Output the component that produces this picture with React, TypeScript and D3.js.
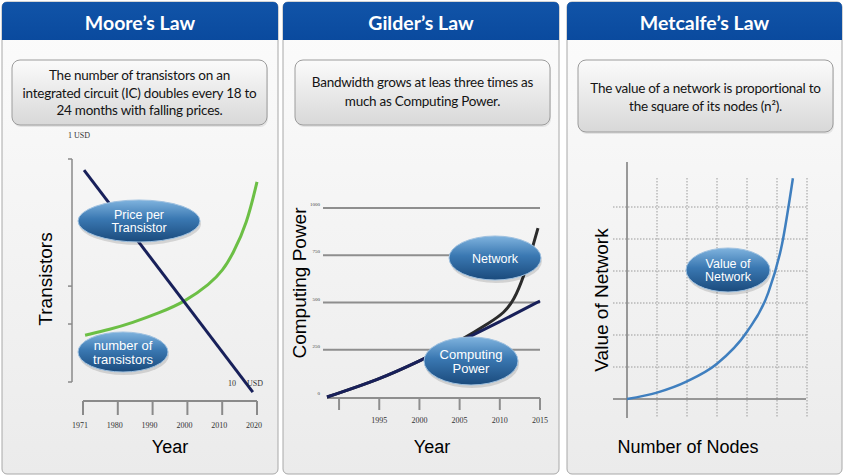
import React from 'react';
import * as d3 from 'd3';

// ---------- DATA ----------
const panelTitles = ['Moore’s Law', 'Gilder’s Law', 'Metcalfe’s Law'];
const mooreDescription = ['The number of transistors on an', 'integrated circuit (IC) doubles every 18 to', '24 months with falling prices.'];
const gilderDescription = ['Bandwidth grows at leas three times as', 'much as Computing Power.'];
const metcalfeDescription = ['The value of a network is proportional to', 'the square of its nodes (n²).'];

// Moore's law
const mooreYearLabels = ['1971', '1980', '1990', '2000', '2010', '2020'];
const mooreYTicks = [0, 26, 43, 100];
const moorePrice: [number, number][] = [[1970.3, 95], [2018.8, -4.5]];
const mooreTransistors: [number, number][] = [
  [1970.6, 21], [1977.8, 23.6], [1984, 26.5], [1992, 31], [1999.3, 36],
  [2006.5, 44], [2010.2, 50], [2013.1, 57.5], [2017.1, 71], [2020.0, 89.7],
];
const mooreTopLabel = '1 USD';
const mooreBottomLabel = ['10', 'USD'];

// Gilder's law
const gilderYears = [1990, 1995, 2000, 2005, 2010, 2015];
const gilderYearLabels = ['', '1995', '2000', '2005', '2010', '2015'];
const gilderYTicks = [0, 250, 500, 750, 1000];
const computingPower: [number, number][] = [
  [1988.5, 0], [1995, 92], [2000, 190], [2005, 292], [2010, 398], [2015, 508],
];
const networkGrowth: [number, number][] = [
  [1988.5, 0], [1995, 92], [2000, 190], [2005, 295], [2009, 400], [2010.5, 445],
  [2011.75, 510], [2013, 640], [2014, 780], [2014.75, 894],
];

// Metcalfe's law
const metcalfeGridX = [1, 2, 3, 4, 5, 6];
const metcalfeGridY = [1, 2, 3, 4, 5, 6];
const networkValue: [number, number][] = [
  [0, 0], [1, 0.2], [2, 0.55], [3, 1.1], [4, 2.1], [4.7, 3.3], [5.17, 4.85], [5.53, 6.9],
];

// ---------- LAYOUT ----------
const W = 844;
const H = 476;
const panels = [
  { x: 2, w: 276, box: { x: 12, y: 60, w: 255, h: 65 } },
  { x: 283, w: 276, box: { x: 295, y: 60, w: 255, h: 65 } },
  { x: 567, w: 275, box: { x: 578, y: 60, w: 255, h: 72 } },
];
const panelTop = 2;
const panelBottom = 474;
const headerBottom = 40;

const TITLE_FONT = 'Lato, "Open Sans", sans-serif';
const AXIS_FONT = '"Liberation Sans", Arial, sans-serif';
const SERIF = '"Liberation Serif", "DejaVu Serif", serif';

function Bubble({ cx, cy, rx, ry, lines, fs = 12.5 }: { cx: number; cy: number; rx: number; ry: number; lines: string[]; fs?: number }) {
  const lh = fs * 1.08;
  const y0 = cy - ((lines.length - 1) * lh) / 2 + fs * 0.36;
  return (
    <g>
      <ellipse cx={cx + 1} cy={cy + 3} rx={rx} ry={ry} fill="rgba(0,0,0,0.13)" />
      <ellipse cx={cx} cy={cy} rx={rx} ry={ry} fill="url(#bubbleGrad)" stroke="#9fc1e0" strokeWidth={1} />
      {lines.map((l, i) => (
        <text key={i} x={cx} y={y0 + i * lh} textAnchor="middle" fontFamily={AXIS_FONT} fontSize={fs} fill="#ffffff">
          {l}
        </text>
      ))}
    </g>
  );
}

function Panel({ i, title, desc, descY, descLH }: { i: number; title: string; desc: string[]; descY: number; descLH: number }) {
  const p = panels[i];
  const r = 5;
  const x0 = p.x, x1 = p.x + p.w;
  const headerPath = `M${x0},${headerBottom} L${x0},${panelTop + r} Q${x0},${panelTop} ${x0 + r},${panelTop} L${x1 - r},${panelTop} Q${x1},${panelTop} ${x1},${panelTop + r} L${x1},${headerBottom} Z`;
  const cx = p.box.x + p.box.w / 2;
  return (
    <g>
      <rect x={x0} y={panelTop} width={p.w} height={panelBottom - panelTop} rx={r} fill="url(#bodyGrad)" stroke="#a8a8a8" strokeWidth={1} />
      <path d={headerPath} fill="url(#headGrad)" />
      <text x={(x0 + x1) / 2} y={30} textAnchor="middle" fontFamily={TITLE_FONT} fontWeight={700} fontSize={19.5} fill="#ffffff">
        {title}
      </text>
      <rect x={p.box.x + 1} y={p.box.y + 2} width={p.box.w} height={p.box.h} rx={8} fill="rgba(0,0,0,0.08)" />
      <rect x={p.box.x} y={p.box.y} width={p.box.w} height={p.box.h} rx={8} fill="url(#boxGrad)" stroke="#9c9c9c" strokeWidth={1} />
      {desc.map((l, k) => (
        <text key={k} x={cx} y={descY + k * descLH} textAnchor="middle" fontFamily={TITLE_FONT} fontSize={13.5} letterSpacing={-0.25} fill="#141414">
          {l}
        </text>
      ))}
    </g>
  );
}

function Moore() {
  const xYear = d3.scaleLinear().domain([1970, 2020]).range([83, 257]);
  const xCat = d3.scalePoint<string>().domain(mooreYearLabels).range([83, 257]);
  const y = d3.scaleLinear().domain([0, 100]).range([382, 159]);
  const line = d3.line<[number, number]>().x(d => xYear(d[0])).y(d => y(d[1]));
  const curve = d3.line<[number, number]>().x(d => xYear(d[0])).y(d => y(d[1])).curve(d3.curveBasis);
  const axisY = 401;
  return (
    <g>
      <line x1={72} x2={72} y1={y(100)} y2={y(0)} stroke="#8a8a8a" strokeWidth={1.5} />
      {mooreYTicks.map(t => (
        <line key={t} x1={68} x2={72} y1={y(t)} y2={y(t)} stroke="#8a8a8a" strokeWidth={1.5} />
      ))}
      <text x={68} y={138} fontFamily={SERIF} fontSize={8} fill="#333">{mooreTopLabel}</text>
      <line x1={xCat('1971')!} x2={xCat('2020')!} y1={axisY} y2={axisY} stroke="#8a8a8a" strokeWidth={2} />
      {mooreYearLabels.map(l => (
        <g key={l}>
          <line x1={xCat(l)!} x2={xCat(l)!} y1={axisY} y2={axisY + 14} stroke="#8a8a8a" strokeWidth={2} />
          <text x={xCat(l)! - 3} y={428} textAnchor="middle" fontFamily={SERIF} fontSize={8} fill="#333">{l}</text>
        </g>
      ))}
      <text x={170} y={453} textAnchor="middle" fontFamily={AXIS_FONT} fontSize={18} fill="#000">Year</text>
      <text transform="translate(52,279) rotate(-90)" textAnchor="middle" fontFamily={AXIS_FONT} fontSize={19} fill="#000">Transistors</text>
      <path d={curve(mooreTransistors)!} fill="none" stroke="#6cbf45" strokeWidth={3} />
      <path d={line(moorePrice)!} fill="none" stroke="#18205a" strokeWidth={3} />
      <text x={228} y={386} fontFamily={SERIF} fontSize={8} fill="#333">{mooreBottomLabel[0]}</text>
      <text x={247} y={386} fontFamily={SERIF} fontSize={8} fill="#333">{mooreBottomLabel[1]}</text>
      <Bubble cx={139} cy={221} rx={61} ry={21} lines={['Price per', 'Transistor']} />
      <Bubble cx={123} cy={352} rx={45} ry={20} lines={['number of', 'transistors']} fs={13} />
    </g>
  );
}

function Gilder() {
  const x = d3.scaleLinear().domain([1988.5, 2015]).range([327, 540]);
  const y = d3.scaleLinear().domain([0, 1000]).range([397, 208]);
  const curve = d3.line<[number, number]>().x(d => x(d[0])).y(d => y(d[1])).curve(d3.curveBasis);
  const axisY = 398;
  return (
    <g>
      {gilderYTicks.filter(t => t > 0).map(t => (
        <line key={t} x1={323} x2={540} y1={y(t)} y2={y(t)} stroke="#8e8e8e" strokeWidth={2} />
      ))}
      {gilderYTicks.map(t => (
        <text key={t} x={320} y={y(t) - 2} textAnchor="end" fontFamily={SERIF} fontSize={5} fill="#444">{t}</text>
      ))}
      <line x1={327} x2={540} y1={axisY} y2={axisY} stroke="#8e8e8e" strokeWidth={2} />
      {gilderYears.map((yr, k) => (
        <g key={yr}>
          <line x1={x(yr)} x2={x(yr)} y1={axisY} y2={axisY + 12} stroke="#8e8e8e" strokeWidth={2} />
          <text x={x(yr)} y={423} textAnchor="middle" fontFamily={SERIF} fontSize={8} fill="#333">{gilderYearLabels[k]}</text>
        </g>
      ))}
      <text x={432} y={453} textAnchor="middle" fontFamily={AXIS_FONT} fontSize={18} fill="#000">Year</text>
      <text transform="translate(306,283) rotate(-90)" textAnchor="middle" fontFamily={AXIS_FONT} fontSize={19} fill="#000">Computing Power</text>
      <path d={curve(networkGrowth)!} fill="none" stroke="#2b2b2b" strokeWidth={3} />
      <path d={curve(computingPower)!} fill="none" stroke="#18205a" strokeWidth={3} />
      <Bubble cx={495} cy={258} rx={46} ry={22} lines={['Network']} />
      <Bubble cx={471} cy={361} rx={47} ry={24} lines={['Computing', 'Power']} fs={13} />
    </g>
  );
}

function Metcalfe() {
  const x = d3.scaleLinear().domain([0, 6]).range([627, 807]);
  const y = d3.scaleLinear().domain([0, 7]).range([399, 175]);
  const curve = d3.line<[number, number]>().x(d => x(d[0])).y(d => y(d[1])).curve(d3.curveMonotoneX);
  return (
    <g>
      {metcalfeGridX.map(g => (
        <line key={'x' + g} x1={x(g)} x2={x(g)} y1={178} y2={418} stroke="#9a9a9a" strokeWidth={1} strokeDasharray="1.5,1.5" />
      ))}
      {metcalfeGridY.map(g => (
        <line key={'y' + g} x1={613} x2={807} y1={y(g)} y2={y(g)} stroke="#9a9a9a" strokeWidth={1} strokeDasharray="1.5,1.5" />
      ))}
      <line x1={x(0)} x2={x(0)} y1={162} y2={418} stroke="#7a7a7a" strokeWidth={1.5} />
      <line x1={613} x2={806} y1={y(0)} y2={y(0)} stroke="#7a7a7a" strokeWidth={1.5} />
      <path d={curve(networkValue)!} fill="none" stroke="#3f7fbf" strokeWidth={2.5} />
      <text transform="translate(608,300) rotate(-90)" textAnchor="middle" fontFamily={AXIS_FONT} fontSize={19} fill="#000">Value of Network</text>
      <text x={688} y={453} textAnchor="middle" fontFamily={AXIS_FONT} fontSize={18} fill="#000">Number of Nodes</text>
      <Bubble cx={728} cy={270} rx={42} ry={22} lines={['Value of', 'Network']} />
    </g>
  );
}

export default function App() {
  return (
    <div style={{ position: 'absolute', left: 0, top: 0, width: W, height: H }}>
      <svg width={W} height={H} viewBox={`0 0 ${W} ${H}`} style={{ display: 'block' }}>
        <defs>
          <linearGradient id="bodyGrad" x1="0" y1="0" x2="0" y2="1">
            <stop offset="0" stopColor="#fcfcfc" />
            <stop offset="1" stopColor="#ebebeb" />
          </linearGradient>
          <linearGradient id="headGrad" x1="0" y1="0" x2="0" y2="1">
            <stop offset="0" stopColor="#1154a8" />
            <stop offset="1" stopColor="#0a4a9e" />
          </linearGradient>
          <linearGradient id="boxGrad" x1="0" y1="0" x2="0" y2="1">
            <stop offset="0" stopColor="#fbfbfb" />
            <stop offset="1" stopColor="#d8d8d8" />
          </linearGradient>
          <linearGradient id="bubbleGrad" x1="0" y1="0" x2="0" y2="1">
            <stop offset="0" stopColor="#7fb3de" />
            <stop offset="0.45" stopColor="#3a78b2" />
            <stop offset="1" stopColor="#1a4a7c" />
          </linearGradient>
        </defs>
        <rect width={W} height={H} fill="#ffffff" />
        <Panel i={0} title={panelTitles[0]} desc={mooreDescription} descY={80} descLH={17.5} />
        <Panel i={1} title={panelTitles[1]} desc={gilderDescription} descY={87} descLH={19} />
        <Panel i={2} title={panelTitles[2]} desc={metcalfeDescription} descY={93} descLH={18} />
        <Moore />
        <Gilder />
        <Metcalfe />
      </svg>
    </div>
  );
}
